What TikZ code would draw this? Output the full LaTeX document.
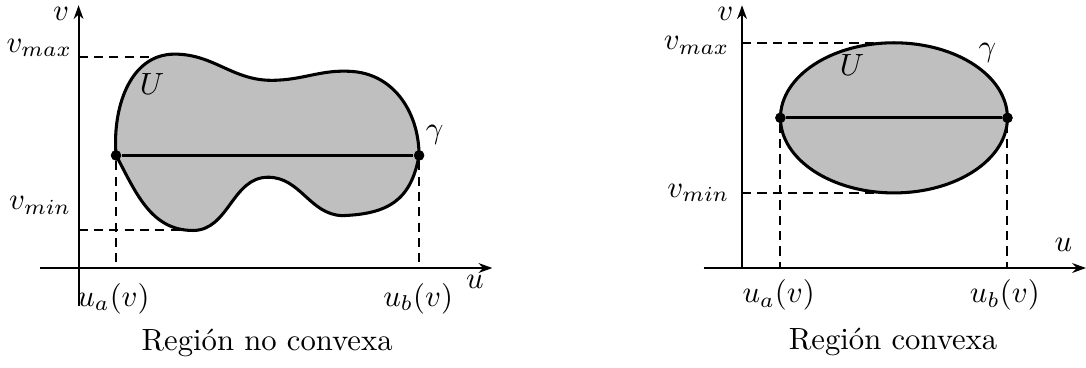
\documentclass[tikz,border=0pt]{standalone}
\usetikzlibrary{arrows.meta,calc}

\begin{document}
\begin{tikzpicture}[
  axis/.style={line width=0.65pt, -{Stealth[length=4.5pt, width=3.2pt]}},
  guide/.style={line width=0.65pt, dash pattern=on 3pt off 2pt},
  region/.style={fill=gray!50, draw=black, line width=1pt},
  chord/.style={line width=1pt},
  dot/.style={circle, fill=black, inner sep=0pt, minimum size=3.4pt},
  lbl/.style={inner sep=0pt}
]
\useasboundingbox (-0.90,-1.14) rectangle (11.54,3.07);

% region no convexa
\coordinate (vlo1) at (0,-0.43);
\coordinate (vhi1) at (0,3.01);
\coordinate (ulo1) at (-0.44,0);
\coordinate (uhi1) at (4.74,0);
\coordinate (top1) at (1.10,2.45);
\coordinate (dip1) at (2.21,2.15);
\coordinate (hump1) at (3.15,2.25);
\coordinate (low1) at (3.02,0.60);
\coordinate (mid1) at (2.17,1.04);
\coordinate (bot1) at (1.31,0.43);
\node[dot] (A1) at (0.43,1.29) {};
\node[dot] (B1) at (3.90,1.29) {};

\draw[guide] (vlo1 |- 0,2.42) -- (1.10,2.42);
\draw[guide] (bot1 -| vlo1) -- (bot1);
\draw[guide] (A1) -- (A1 |- ulo1);
\draw[guide] (B1) -- (B1 |- ulo1);

\draw[region] (A1.center) to[out=95,in=180] (top1)
  to[out=0,in=180] (dip1)
  to[out=0,in=175] (hump1)
  to[out=-5,in=90] (B1.center)
  to[out=-100,in=2,looseness=1.2] (low1)
  to[out=178,in=0] (mid1)
  to[out=180,in=0] (bot1)
  to[out=180,in=-62] (A1.center) -- cycle;
\draw[chord] (A1) -- (B1);
\node[dot] at (A1) {};
\node[dot] at (B1) {};

\draw[axis] (ulo1) -- (uhi1);
\draw[axis] (vlo1) -- (vhi1);

\node[lbl] (v1) at (-0.20,2.91) {$v$};
\node[lbl] (vmax1) at (-0.45,2.52) {$v_{max}$};
\node[lbl] (vmin1) at (-0.44,0.72) {$v_{min}$};
\node[lbl] (U1) at (0.84,2.11) {$U$};
\node[lbl] (g1) at (4.08,1.52) {$\gamma$};
\node[lbl] (u1) at (4.54,-0.16) {$u$};
\node[lbl] (ua1) at (0.40,-0.35) {$u_a(v)$};
\node[lbl] (ub1) at (3.89,-0.35) {$u_b(v)$};
\node[lbl] (cap1) at (2.16,-0.86) {Región no convexa};

% region convexa
\begin{scope}[xshift=7.6cm]
\coordinate (O2) at (0,0);
\coordinate (vhi2) at (0,3.01);
\coordinate (ulo2) at (-0.44,0);
\coordinate (uhi2) at (3.94,0);
\coordinate (c2) at (1.74,1.72);
\node[dot] (A2) at (0.44,1.72) {};
\node[dot] (B2) at (3.04,1.72) {};

\draw[guide] (0,2.58) -- ($(c2)+(0,0.86)$);
\draw[guide] (0,0.86) -- ($(c2)-(0,0.86)$);
\draw[guide] (A2) -- (A2 |- O2);
\draw[guide] (B2) -- (B2 |- O2);

\draw[region] (c2) ellipse [x radius=1.30, y radius=0.86];
\draw[chord] (A2) -- (B2);
\node[dot] at (A2) {};
\node[dot] at (B2) {};

\draw[axis] (ulo2) -- (uhi2);
\draw[axis] (O2) -- (vhi2);

\node[lbl] (v2) at (-0.19,2.91) {$v$};
\node[lbl] (vmax2) at (-0.52,2.55) {$v_{max}$};
\node[lbl] (vmin2) at (-0.50,0.86) {$v_{min}$};
\node[lbl] (U2) at (1.26,2.32) {$U$};
\node[lbl] (g2) at (2.81,2.47) {$\gamma$};
\node[lbl] (u2) at (3.68,0.26) {$u$};
\node[lbl] (ua2) at (0.42,-0.31) {$u_a(v)$};
\node[lbl] (ub2) at (3.01,-0.31) {$u_b(v)$};
\node[lbl] (cap2) at (1.73,-0.85) {Región convexa};
\end{scope}
\end{tikzpicture}
\end{document}
